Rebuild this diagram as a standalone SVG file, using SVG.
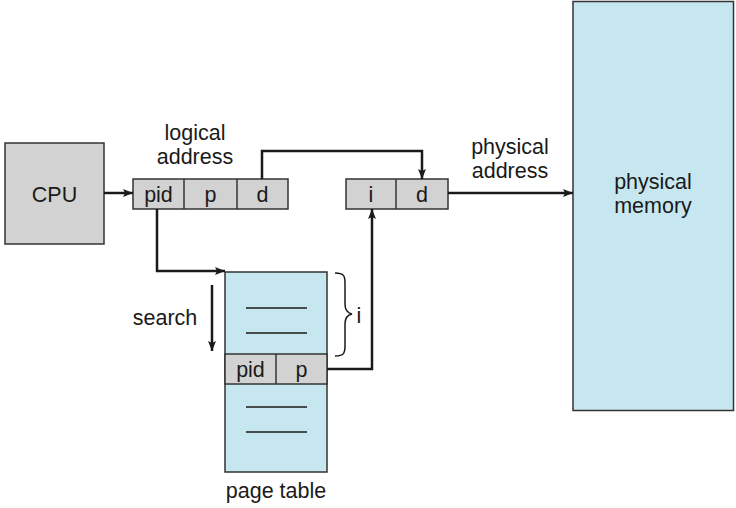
<svg xmlns="http://www.w3.org/2000/svg" width="736" height="508" viewBox="0 0 736 508">
<defs>
<marker id="ah" viewBox="0 0 10 10" refX="10" refY="5" markerWidth="10" markerHeight="10" markerUnits="userSpaceOnUse" orient="auto">
<path d="M0,1 L10,5 L0,9 L2,5 Z" fill="#1a1a1a"/>
</marker>
<style>
text{font-family:"Liberation Sans",Arial,sans-serif;font-size:21.5px;fill:#1a1a1a;text-anchor:middle}
.g{fill:#d2d2d2;stroke:#333;stroke-width:1.5}
.b{fill:#c7e7f0;stroke:#333;stroke-width:1.5}
.l{stroke:#333;stroke-width:1.5;fill:none}
.c{stroke:#1a1a1a;stroke-width:2.5;fill:none}
.a{stroke:#1a1a1a;stroke-width:2.5;fill:none;marker-end:url(#ah)}
.t{stroke:#1a1a1a;stroke-width:1.5;fill:none}
</style>
</defs>
<rect width="736" height="508" fill="#fff"/>
<g id="cpu">
<rect class="g" x="5" y="143" width="99" height="101"/>
<text x="54.5" y="202">CPU</text>
</g>
<g id="logical-address">
<rect class="g" x="133" y="179" width="155" height="30"/>
<line class="l" x1="184" y1="179" x2="184" y2="209"/>
<line class="l" x1="237" y1="179" x2="237" y2="209"/>
<text x="158.5" y="202">pid</text>
<text x="210.5" y="202">p</text>
<text x="262.5" y="202">d</text>
<text x="195" y="140">logical</text>
<text x="195" y="164">address</text>
</g>
<g id="physical-address">
<rect class="g" x="346" y="179" width="102" height="30"/>
<line class="l" x1="396" y1="179" x2="396" y2="209"/>
<text x="371" y="202">i</text>
<text x="422" y="202">d</text>
<text x="510" y="154">physical</text>
<text x="510" y="178">address</text>
</g>
<g id="physical-memory">
<rect class="b" x="573" y="1.5" width="160.5" height="409"/>
<text x="653" y="189">physical</text>
<text x="653" y="213">memory</text>
</g>
<g id="page-table">
<rect class="b" x="225" y="272" width="102" height="200"/>
<rect class="g" x="225" y="354" width="102" height="30"/>
<line class="l" x1="276" y1="354" x2="276" y2="384"/>
<text x="250.5" y="377">pid</text>
<text x="301.5" y="377">p</text>
<line class="t" x1="246" y1="308" x2="307" y2="308"/>
<line class="t" x1="246" y1="333" x2="307" y2="333"/>
<line class="t" x1="246" y1="407" x2="307" y2="407"/>
<line class="t" x1="246" y1="432" x2="307" y2="432"/>
<text x="276" y="498">page table</text>
</g>
<g id="search">
<text x="165" y="325">search</text>
<line class="a" x1="212" y1="285" x2="212" y2="351"/>
</g>
<g id="index-brace">
<path class="t" d="M335,273 C344,273 345,276 345,283 L345,304 C345,310 347,313 352,314 C347,315 345,318 345,324 L345,346 C345,353 344,356 335,356"/>
<text x="359" y="323">i</text>
</g>
<g id="connectors">
<line class="a" x1="104" y1="193" x2="133" y2="193"/>
<polyline class="a" points="262,179 262,151 422,151 422,179"/>
<polyline class="a" points="157,209 157,271 225,271"/>
<polyline class="a" points="327,369 372,369 372,209"/>
<line class="a" x1="448" y1="193" x2="573" y2="193"/>
</g>
</svg>
